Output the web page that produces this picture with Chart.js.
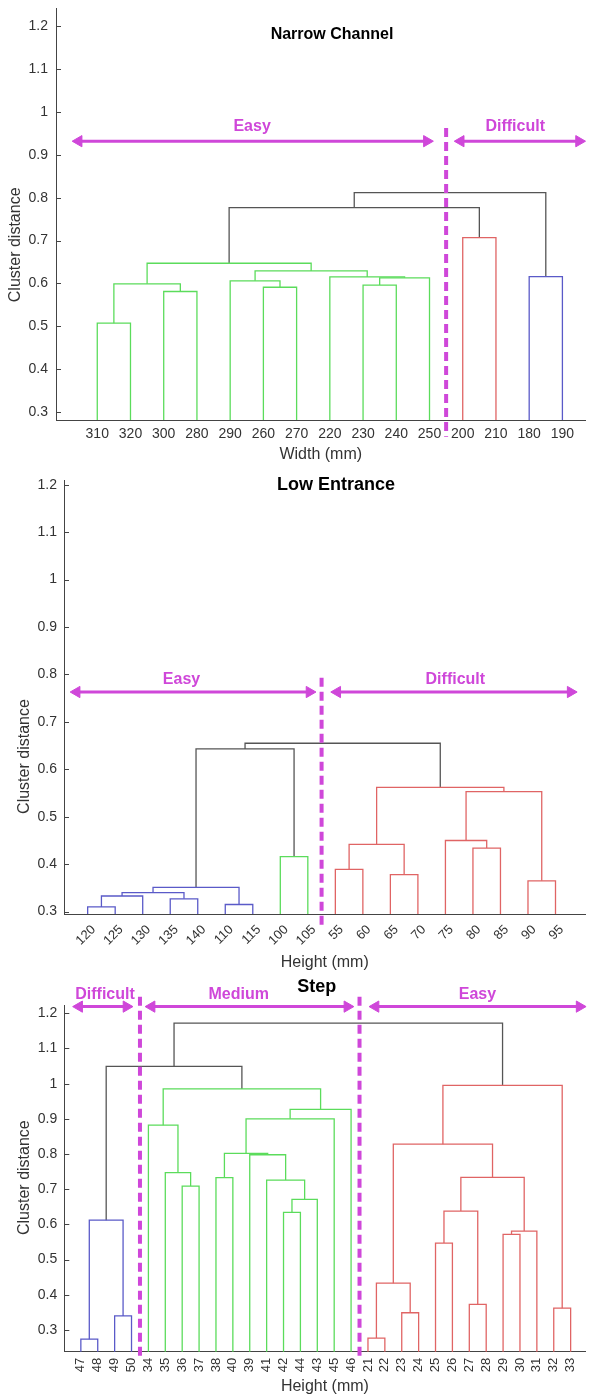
<!DOCTYPE html>
<html lang="en">
<head>
  <meta charset="UTF-8" />
  <title>Cluster dendrograms: Narrow Channel, Low Entrance, Step</title>
  <script src="https://cdn.jsdelivr.net/npm/chart.js"></script>
  <style>
    * { box-sizing: border-box; margin: 0; padding: 0; }
    body {
      background: #fff;
      width: 593px;
      height: 1397px;
      position: relative;
      overflow: hidden;
    }
    .panel { position: absolute; left: 0; }
    #p1 { top: 0; }
    #p2 { top: 466px; }
    #p3 { top: 975px; }
    canvas { display: block; }
  </style>
</head>
<body>
  <div class="panel" id="p1"><canvas id="narrowChart" width="593" height="466"></canvas></div>
  <div class="panel" id="p2"><canvas id="lowChart" width="593" height="509"></canvas></div>
  <div class="panel" id="p3"><canvas id="stepChart" width="593" height="422"></canvas></div>

  <script>
    // ---------- data ----------
    const distTicks = [0.3, 0.4, 0.5, 0.6, 0.7, 0.8, 0.9, 1.0, 1.1, 1.2];

    // merges are [node a, node b, distance, cluster]
    // nodes 1..n are the leaves in plotted order, n+k is the k-th merge

    // Narrow Channel (width, mm)
    const ncLeaves = ['310', '320', '300', '280', '290', '260', '270', '220', '230', '240', '250', '200', '210', '180', '190'];
    const ncMerges = [
      [1, 2, 0.507, 'g'], [3, 4, 0.581, 'g'], [16, 17, 0.599, 'g'],
      [6, 7, 0.591, 'g'], [5, 19, 0.606, 'g'], [9, 10, 0.596, 'g'],
      [21, 11, 0.613, 'g'], [8, 22, 0.615, 'g'], [20, 23, 0.629, 'g'],
      [18, 24, 0.647, 'g'], [12, 13, 0.707, 'r'], [25, 26, 0.777, 'k'],
      [14, 15, 0.616, 'b'], [27, 28, 0.812, 'k']
    ];
    const ncCuts = [11.5];
    // [name, arrow from, arrow to, name at] in leaf positions
    const ncZones = [['Easy', 0.44, 10.92, 5.66], ['Difficult', 11.94, 15.5, 13.58]];

    // Low Entrance (height, mm)
    const leLeaves = ['120', '125', '130', '135', '140', '110', '115', '100', '105', '55', '60', '65', '70', '75', '80', '85', '90', '95'];
    const leMerges = [
      [1, 2, 0.310, 'b'], [19, 3, 0.333, 'b'], [4, 5, 0.327, 'b'],
      [20, 21, 0.340, 'b'], [6, 7, 0.315, 'b'], [22, 23, 0.351, 'b'],
      [8, 9, 0.416, 'g'], [24, 25, 0.643, 'k'],
      [10, 11, 0.389, 'r'], [12, 13, 0.378, 'r'], [27, 28, 0.442, 'r'],
      [15, 16, 0.434, 'r'], [14, 30, 0.450, 'r'], [17, 18, 0.365, 'r'],
      [31, 32, 0.553, 'r'], [29, 33, 0.562, 'r'], [26, 34, 0.655, 'k']
    ];
    const leCuts = [9.5];
    const leZones = [['Easy', 0.60, 9.06, 4.41], ['Difficult', 10.07, 18.55, 14.36]];

    // Step (height, mm)
    const stLeaves = ['47', '48', '49', '50', '34', '35', '36', '37', '38', '40', '39', '41', '42', '44', '43', '45', '46',
                      '21', '22', '23', '24', '25', '26', '27', '28', '29', '30', '31', '32', '33'];
    const stMerges = [
      [1, 2, 0.274, 'b'], [3, 4, 0.340, 'b'], [31, 32, 0.612, 'b'],
      [7, 8, 0.709, 'g'], [6, 34, 0.747, 'g'], [5, 35, 0.882, 'g'],
      [9, 10, 0.733, 'g'], [13, 14, 0.634, 'g'], [38, 15, 0.671, 'g'],
      [12, 39, 0.726, 'g'], [11, 40, 0.798, 'g'], [37, 41, 0.802, 'g'],
      [42, 16, 0.900, 'g'], [43, 17, 0.927, 'g'], [36, 44, 0.985, 'g'],
      [33, 45, 1.049, 'k'],
      [18, 19, 0.277, 'r'], [20, 21, 0.349, 'r'], [47, 48, 0.433, 'r'],
      [22, 23, 0.547, 'r'], [24, 25, 0.373, 'r'], [50, 51, 0.638, 'r'],
      [26, 27, 0.572, 'r'], [53, 28, 0.581, 'r'], [52, 54, 0.734, 'r'],
      [49, 55, 0.828, 'r'], [29, 30, 0.362, 'r'], [56, 57, 0.995, 'r'],
      [46, 58, 1.172, 'k']
    ];
    const stCuts = [4.5, 17.5];
    const stZones = [['Difficult', 0.90, 3.70, 2.43], ['Medium', 5.19, 16.78, 10.35], ['Easy', 18.45, 30.53, 24.48]];

    // ---------- styles ----------
    const FONT = '"Liberation Sans", Arial, sans-serif';
    const TEXT = '#333';
    const AXIS = '#444';
    const MAGENTA = '#cf47d9';
    const LINK_COLORS = { g: '#5bdc5b', r: '#e06464', b: '#5a5ac8', k: '#555' };

    // MATLAB style dendrogram: each merge is a U joining its two children
    function dendroDatasets(n, merges) {
      const pos = [], top = [];
      for (let i = 1; i <= n; i++) { pos[i] = i; top[i] = 0; }
      return merges.map(([a, b, h, grp], k) => {
        const id = n + k + 1;
        pos[id] = (pos[a] + pos[b]) / 2;
        top[id] = h;
        return {
          data: [
            { x: pos[a], y: top[a] }, { x: pos[a], y: h },
            { x: pos[b], y: h }, { x: pos[b], y: top[b] }
          ],
          showLine: true,
          borderColor: LINK_COLORS[grp],
          borderWidth: 1.3,
          pointRadius: 0,
          tension: 0
        };
      });
    }

    // titles, zone names, y title and inward tick marks
    const panelDeco = {
      id: 'panelDeco',
      afterDraw(chart, args, o) {
        const { ctx, chartArea } = chart;
        const xs = chart.scales.x, ys = chart.scales.y;
        ctx.save();
        ctx.strokeStyle = AXIS;
        ctx.lineWidth = 1;
        ys.ticks.forEach(t => {
          const py = Math.round(ys.getPixelForValue(t.value)) + 0.5;
          ctx.beginPath();
          ctx.moveTo(chartArea.left, py);
          ctx.lineTo(chartArea.left + 5, py);
          ctx.stroke();
        });
        ctx.textAlign = 'center';
        ctx.textBaseline = 'middle';
        ctx.fillStyle = '#000';
        ctx.font = `bold ${o.titleSize}px ${FONT}`;
        ctx.fillText(o.title, o.titleX, o.titleY);

        ctx.fillStyle = MAGENTA;
        ctx.font = `bold 16px ${FONT}`;
        o.zones.forEach(z => {
          ctx.fillText(z[0], xs.getPixelForValue(z[3]), ys.getPixelForValue(o.labelY));
        });

        ctx.translate(o.yTitleX, ys.getPixelForValue(o.yTitleAt));
        ctx.rotate(-Math.PI / 2);
        ctx.fillStyle = TEXT;
        ctx.font = `16px ${FONT}`;
        ctx.fillText('Cluster distance', 0, 0);
        ctx.restore();
      }
    };

    function buildPanel(canvasId, cfg) {
      const datasets = [];
      // dividers and arrows go first so they are painted on top
      cfg.cuts.forEach(cx => datasets.push({
        data: [{ x: cx, y: cfg.cutSpan[0] }, { x: cx, y: cfg.cutSpan[1] }],
        showLine: true,
        borderColor: MAGENTA,
        borderWidth: 4,
        borderDash: [9, 5],
        pointRadius: 0,
        clip: false
      }));
      cfg.zones.forEach(z => datasets.push({
        data: [{ x: z[1], y: cfg.arrowY }, { x: z[2], y: cfg.arrowY }],
        showLine: true,
        borderColor: MAGENTA,
        borderWidth: 3,
        pointStyle: 'triangle',
        pointRadius: 6.5,
        pointRotation: [270, 90],
        pointBackgroundColor: MAGENTA,
        pointBorderColor: MAGENTA,
        pointBorderWidth: 1,
        clip: false
      }));
      datasets.push(...dendroDatasets(cfg.leaves.length, cfg.merges));

      return new Chart(document.getElementById(canvasId), {
        type: 'scatter',
        data: { datasets },
        options: {
          responsive: false,
          animation: false,
          events: [],
          layout: { padding: cfg.pad },
          plugins: {
            legend: { display: false },
            tooltip: { enabled: false },
            panelDeco: cfg.deco
          },
          scales: {
            x: {
              type: 'linear',
              min: cfg.xRange[0],
              max: cfg.xRange[1],
              grid: { drawOnChartArea: false, drawTicks: false },
              border: { color: AXIS, width: 1 },
              afterBuildTicks: s => { s.ticks = cfg.leaves.map((_, i) => ({ value: i + 1 })); },
              afterFit: s => { s.height = cfg.xAxisH; s.paddingLeft = 0; s.paddingRight = 0; },
              ticks: {
                autoSkip: false,
                minRotation: cfg.rot,
                maxRotation: cfg.rot,
                padding: cfg.xPad,
                labelOffset: cfg.labelOffset,
                color: TEXT,
                font: { family: FONT, size: cfg.xFont },
                callback: v => cfg.leaves[v - 1]
              },
              title: {
                display: true,
                text: cfg.xTitle,
                color: TEXT,
                font: { family: FONT, size: 16 },
                padding: { top: 0, bottom: cfg.xTitlePad }
              }
            },
            y: {
              type: 'linear',
              min: cfg.yRange[0],
              max: cfg.yRange[1],
              grid: { drawOnChartArea: false, drawTicks: false },
              border: { color: AXIS, width: 1 },
              afterBuildTicks: s => { s.ticks = distTicks.map(v => ({ value: v })); },
              afterFit: s => { s.width = cfg.yAxisW; s.paddingTop = 0; s.paddingBottom = 0; },
              ticks: {
                padding: cfg.yPad,
                color: TEXT,
                font: { family: FONT, size: 14 },
                callback: v => String(+v.toFixed(1))
              }
            }
          }
        },
        plugins: [panelDeco]
      });
    }

    buildPanel('narrowChart', {
      leaves: ncLeaves, merges: ncMerges, cuts: ncCuts, zones: ncZones,
      cutSpan: [0.963, 0.242], arrowY: 0.932,
      xRange: [-0.242, 15.695], yRange: [0.281, 1.243],
      pad: { top: 8, left: 0, right: 2, bottom: 0 },
      xAxisH: 46, yAxisW: 56, rot: 0, xPad: 6, labelOffset: 0, xFont: 14, yPad: 8,
      xTitle: 'Width (mm)', xTitlePad: 1.5,
      deco: { title: 'Narrow Channel', titleSize: 16, titleX: 332, titleY: 35,
              zones: ncZones, labelY: 0.967, yTitleX: 16, yTitleAt: 0.69 }
    });

    buildPanel('lowChart', {
      leaves: leLeaves, merges: leMerges, cuts: leCuts, zones: leZones,
      cutSpan: [0.793, 0.263], arrowY: 0.763,
      xRange: [0.14, 19.09], yRange: [0.295, 1.21],
      pad: { top: 14, left: 0, right: 7, bottom: 0 },
      xAxisH: 61, yAxisW: 64, rot: 45, xPad: 8, labelOffset: 6, xFont: 13, yPad: 7,
      xTitle: 'Height (mm)', xTitlePad: 2.5,
      deco: { title: 'Low Entrance', titleSize: 18, titleX: 336, titleY: 19,
              zones: leZones, labelY: 0.79, yTitleX: 25, yTitleAt: 0.627 }
    });

    buildPanel('stepChart', {
      leaves: stLeaves, merges: stMerges, cuts: stCuts, zones: stZones,
      cutSpan: [1.247, 0.220], arrowY: 1.219,
      xRange: [0.02, 30.88], yRange: [0.2383, 1.2236],
      pad: { top: 30, left: 0, right: 1.3, bottom: 0 },
      xAxisH: 45.3, yAxisW: 64.3, rot: 90, xPad: 6, labelOffset: 0, xFont: 13, yPad: 7,
      xTitle: 'Height (mm)', xTitlePad: 0.7,
      deco: { title: 'Step', titleSize: 18, titleX: 316.7, titleY: 11.7,
              zones: stZones, labelY: 1.254, yTitleX: 25, yTitleAt: 0.733 }
    });
  </script>
</body>
</html>
